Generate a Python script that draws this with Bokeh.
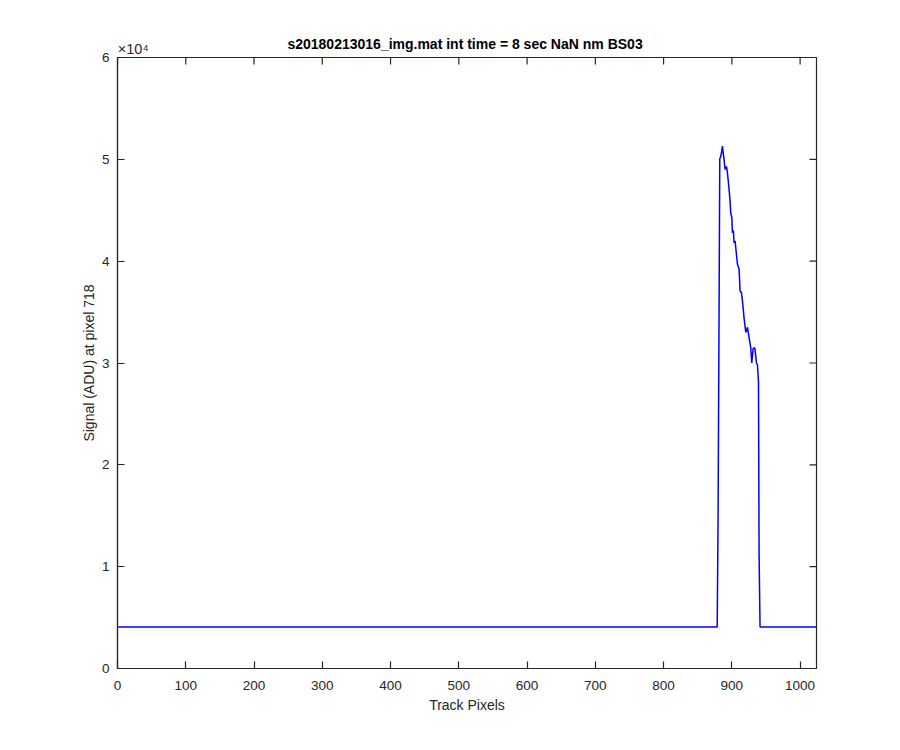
from bokeh.plotting import figure
from bokeh.models import Range1d, LinearAxis, FixedTicker
from bokeh.embed import file_html
from bokeh.resources import INLINE

# ---- data ----
track_pixels = [1, 878.5, 879.8, 881.2, 882.3, 883.7, 885.2, 886.2, 887.1, 888.6,
                890.0, 892.1, 893.5, 895.9, 897.4, 898.4, 899.9, 900.9, 902.3, 903.2,
                904.7, 908.2, 910.6, 912.0, 914.1, 915.5, 917.9, 920.4, 922.9, 925.2,
                927.7, 929.2, 931.1, 933.6, 936.1, 937.5, 939.0, 939.9, 941.3, 1024]
signal_adu = [4080, 4080, 14500, 34100, 50000, 50300, 50800, 51300, 50700, 50000,
              49000, 49300, 48700, 47100, 45900, 44700, 44300, 42800, 43000, 41800,
              42000, 39700, 39200, 37100, 36900, 36100, 34400, 33000, 33500, 32500,
              31500, 30000, 31400, 31500, 30000, 29800, 28200, 11200, 4080, 4080]
x_ticks = [0, 100, 200, 300, 400, 500, 600, 700, 800, 900, 1000]
y_ticks = [0, 10000, 20000, 30000, 40000, 50000, 60000]
y_tick_labels = ["0", "1", "2", "3", "4", "5", "6"]

title_text = "s20180213016_img.mat int time = 8 sec  NaN nm BS03"
x_label = "Track Pixels"
y_label = "Signal (ADU) at pixel 718"
exponent_label = "\u00d710\u2074"
exponent_anchor_x = 23

X_MAX = 1024
Y_MAX = 60000

FONT = "Liberation Sans"
AX = "#262626"
FRAME_W = 699
FRAME_H = 611
TICK_PX = 7

p = figure(width=884, height=734, output_backend="svg", toolbar_location=None,
           x_range=Range1d(0, X_MAX), y_range=Range1d(0, Y_MAX),
           min_border_left=117, min_border_right=68, min_border_top=57,
           min_border_bottom=66, background_fill_color="white",
           border_fill_color="white", outline_line_color=AX,
           outline_line_width=1.2)

p.grid.visible = False

def style_axis(ax):
    ax.axis_line_color = AX
    ax.axis_line_width = 1.2
    ax.major_tick_line_color = AX
    ax.major_tick_line_width = 1.2
    ax.major_tick_in = TICK_PX
    ax.major_tick_out = 0
    ax.minor_tick_line_color = None
    ax.major_label_text_font = FONT
    ax.major_label_text_font_size = "13.5px"
    ax.major_label_text_color = AX
    ax.axis_label_text_font = FONT
    ax.axis_label_text_font_size = "14px"
    ax.axis_label_text_font_style = "normal"
    ax.axis_label_text_color = AX

xa = p.xaxis[0]
ya = p.yaxis[0]
xa.ticker = FixedTicker(ticks=x_ticks)
ya.ticker = FixedTicker(ticks=y_ticks)
ya.major_label_overrides = {t: l for t, l in zip(y_ticks, y_tick_labels)}
xa.axis_label = x_label
ya.axis_label = y_label
style_axis(xa)
style_axis(ya)
xa.major_label_standoff = 12
ya.major_label_standoff = 8
xa.axis_label_standoff = 4
ya.axis_label_standoff = 2

# inward tick marks on the top and right sides of the box
tick_dy = TICK_PX * Y_MAX / FRAME_H
tick_dx = TICK_PX * X_MAX / FRAME_W
p.segment(x0=x_ticks, y0=[Y_MAX] * len(x_ticks), x1=x_ticks,
          y1=[Y_MAX - tick_dy] * len(x_ticks), line_color=AX, line_width=1.2)
p.segment(x0=[X_MAX] * len(y_ticks), y0=y_ticks, x1=[X_MAX - tick_dx] * len(y_ticks),
          y1=y_ticks, line_color=AX, line_width=1.2)

# exponent note and title, carried by a bare axis above the box
note = LinearAxis(ticker=FixedTicker(ticks=[exponent_anchor_x]))
note.axis_line_color = None
note.major_tick_line_color = None
note.minor_tick_line_color = None
note.major_tick_in = 0
note.major_tick_out = 0
note.major_label_overrides = {exponent_anchor_x: exponent_label}
note.major_label_text_font = FONT
note.major_label_text_font_size = "14.5px"
note.major_label_text_color = AX
note.major_label_standoff = 1
note.axis_label = title_text
note.axis_label_text_font = FONT
note.axis_label_text_font_size = "14px"
note.axis_label_text_font_style = "bold"
note.axis_label_text_color = "black"
note.axis_label_standoff = -14
p.add_layout(note, "above")

p.line(track_pixels, signal_adu, line_color="#0000FF", line_width=1.5)

open("out.html", "w").write(file_html(p, INLINE))
